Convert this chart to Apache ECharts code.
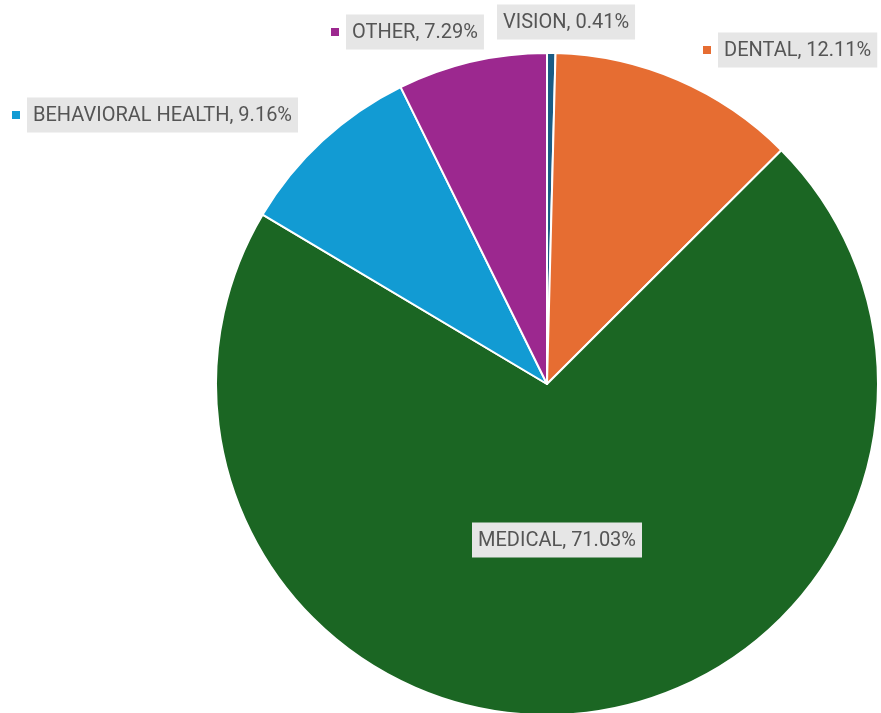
<!DOCTYPE html>
<html>
<head>
<meta charset="utf-8">
<script src="https://cdn.jsdelivr.net/npm/echarts@6/dist/echarts.min.js"></script>
<style>
  html, body { margin: 0; padding: 0; background: #fff; }
  #chart { width: 881px; height: 713px; }
</style>
</head>
<body>
<div id="chart"></div>
<script>
// data, clockwise from the top
let categories = ["VISION", "DENTAL", "MEDICAL", "BEHAVIORAL HEALTH", "OTHER"];
let shares = [0.41, 12.11, 71.03, 9.16, 7.29];
let colors = ["#1a5c85", "#e66d32", "#1b6623", "#129bd3", "#9c288f"];
let showMarker = [false, true, false, true, true];

// where each label sits (left edge, vertical middle)
let labelPos = [
  [497, 22],
  [703, 50],
  [472, 540],
  [12, 115],
  [331, 32],
];

let myChart = echarts.init(document.getElementById("chart"));

let pieData = categories.map((name, i) => ({
  name: name,
  value: shares[i],
  itemStyle: { color: colors[i] },
  label: {
    formatter: showMarker[i] ? "{m|}{s|}{t|{b}, {c}%}" : "{t|{b}, {c}%}",
    rich: {
      m: { width: 8, height: 8, backgroundColor: colors[i] },
      s: { width: 7 },
      t: {
        fontFamily: "Roboto",
        fontSize: 20,
        color: "#555",
        backgroundColor: "#e6e6e6",
        padding: [8, 6, 7, 6],
        lineHeight: 20,
      },
    },
  },
}));

myChart.setOption({
  animation: false,
  series: [
    {
      type: "pie",
      center: [547, 384],
      radius: 331,
      startAngle: 90,
      clockwise: true,
      data: pieData,
      itemStyle: { borderColor: "#fff", borderWidth: 2 },
      label: { show: true, position: "outside", overflow: "none", alignTo: "none" },
      labelLine: { show: false },
      labelLayout: function (params) {
        let p = labelPos[params.dataIndex];
        return { x: p[0], y: p[1], align: "left", verticalAlign: "middle", hideOverlap: false };
      },
      emphasis: { disabled: true },
    },
  ],
});
</script>
</body>
</html>
